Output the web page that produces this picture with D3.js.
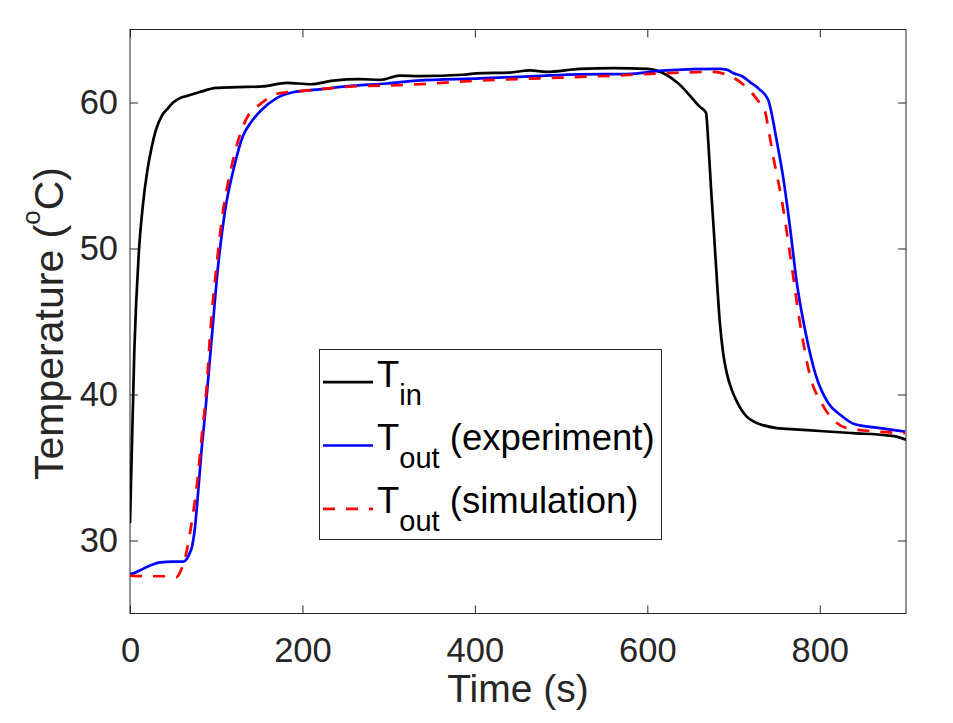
<!DOCTYPE html>
<html lang="en">
  <head>
    <meta charset="utf-8">
    <title>Temperature response</title>
    <script src="https://cdn.jsdelivr.net/npm/d3@7"></script>
    <style>
      body { margin: 0; background: #fff; }
      svg { display: block; }
    </style>
  </head>

  <body>
    <div id='chart'></div>

    <script type='text/javascript'>
      // inlet temperature (black)
      const tInTime = [0, 5, 10, 15, 20, 25, 30, 37, 44, 50, 58, 66, 80, 100, 125, 154, 182, 209, 236, 267,
                       290, 313, 336, 386, 402, 440, 464, 483, 522, 561, 600, 610, 622, 636, 661, 668, 671, 674, 677, 680,
                       684, 688, 692, 698, 704, 715, 725, 734, 750, 775, 800, 839, 878, 890, 900]
      const tInTemp = [31.2, 43.0, 49.5, 53.0, 55.3, 56.9, 58.1, 59.1, 59.6, 60.0, 60.3, 60.45, 60.7, 61.0, 61.05, 61.1, 61.35, 61.25, 61.5, 61.6,
                       61.55, 61.84, 61.8, 61.9, 62.0, 62.05, 62.2, 62.1, 62.3, 62.35, 62.3, 62.2, 61.9, 61.3, 59.7, 59.3, 57.0, 54.0, 51.3, 48.5,
                       45.0, 42.8, 41.5, 40.3, 39.5, 38.5, 38.1, 37.9, 37.7, 37.6, 37.5, 37.35, 37.2, 37.1, 36.9]

      // outlet temperature, experiment (blue)
      const expTime = [0, 6, 13, 22, 35, 50, 62, 66, 69, 72, 75, 79, 83, 87, 91, 95, 102, 110, 120, 131,
                       141, 151, 170, 189, 220, 259, 298, 333, 406, 470, 522, 576, 622, 684, 692, 700, 710, 719, 730, 740,
                       750, 758, 766, 773, 783, 795, 810, 824, 839, 870, 899]
      const expTemp = [27.7, 27.8, 28.0, 28.25, 28.5, 28.55, 28.55, 28.75, 29.1, 29.6, 30.7, 33.3, 36.2, 38.6, 41.3, 44.0, 48.7, 52.5, 55.4, 57.7,
                       58.7, 59.4, 60.3, 60.7, 60.9, 61.15, 61.3, 61.5, 61.65, 61.8, 61.93, 61.95, 62.2, 62.3, 62.25, 62.0, 61.8, 61.4, 60.9, 60.2,
                       57.4, 54.7, 51.2, 47.8, 44.4, 41.4, 39.4, 38.6, 38.0, 37.7, 37.45]

      // outlet temperature, simulation (red dashed)
      const simTime = [0, 20, 40, 54, 57, 60, 63, 66, 69, 72, 77, 83, 89, 93, 100, 108, 116, 126, 136, 147,
                       158, 170, 201, 259, 317, 406, 522, 565, 620, 677, 690, 700, 712, 722, 730, 736, 741, 746, 756, 766,
                       777, 788, 804, 816, 831, 858, 899]
      const simTemp = [27.6, 27.55, 27.55, 27.5, 27.7, 28.1, 28.6, 29.35, 30.3, 31.4, 33.5, 37.0, 40.6, 44.2, 48.6, 52.6, 55.15, 57.5, 59.0, 59.7,
                       60.2, 60.6, 60.8, 61.1, 61.2, 61.5, 61.75, 61.85, 62.0, 62.1, 61.95, 61.7, 61.2, 60.6, 60.0, 59.5, 58.0, 56.3, 53.3, 49.4,
                       44.9, 41.45, 39.2, 38.25, 37.7, 37.5, 37.35]

      const xTicks = [0, 200, 400, 600, 800]
      const yTicks = [30, 40, 50, 60]
      const legendNames = ['in', 'out', 'out']
      const legendNotes = ['', ' (experiment)', ' (simulation)']

      let fullW = 953, fullH = 723
      let margin = {top: 29.5, right: 47, bottom: 109.5, left: 130}
      let width = fullW - margin.left - margin.right
      let height = fullH - margin.top - margin.bottom
      let font = "'Liberation Sans', Arial, Helvetica, sans-serif"
      let axisColor = '#262626'

      let svg = d3.select('#chart').append('svg')
        .attr('width', fullW)
        .attr('height', fullH)

      let canvas = svg.append('g')
        .attr('transform', 'translate(' + margin.left + ',' + margin.top + ')')

      let scale_x = d3.scaleLinear().domain([0, 900]).range([0, width])
      let scale_y = d3.scaleLinear().domain([25, 65]).range([height, 0])

      canvas.append('clipPath').attr('id', 'plot-clip')
        .append('rect').attr('width', width).attr('height', height)

      // axes with inward ticks, mirrored on top/right
      let tick = 8
      let styleAxis = (g) => {
        g.attr('font-family', font).attr('font-size', 34.5)
        g.select('.domain').remove()
        g.selectAll('.tick line').attr('stroke', axisColor)
        g.selectAll('.tick text').attr('fill', axisColor)
      }

      canvas.append('g')
        .attr('transform', 'translate(0,' + height + ')')
        .call(d3.axisBottom(scale_x).tickValues(xTicks).tickSizeInner(-tick).tickSizeOuter(0).tickPadding(24))
        .call(styleAxis)
      canvas.append('g')
        .call(d3.axisTop(scale_x).tickValues(xTicks).tickSizeInner(-tick).tickSizeOuter(0).tickFormat(''))
        .call(styleAxis)
      canvas.append('g')
        .call(d3.axisLeft(scale_y).tickValues(yTicks).tickSizeInner(-tick).tickSizeOuter(0).tickPadding(12))
        .call(styleAxis)
      canvas.append('g')
        .attr('transform', 'translate(' + width + ',0)')
        .call(d3.axisRight(scale_y).tickValues(yTicks).tickSizeInner(-tick).tickSizeOuter(0).tickFormat(''))
        .call(styleAxis)

      canvas.append('rect')
        .attr('width', width)
        .attr('height', height)
        .attr('fill', 'none')
        .attr('stroke', axisColor)
        .attr('stroke-width', 1)

      // curves
      let series = [
        {time: tInTime, temp: tInTemp, color: '#000000', dash: null},
        {time: expTime, temp: expTemp, color: '#0000ff', dash: null},
        {time: simTime, temp: simTemp, color: '#ff0000', dash: '12,11'}
      ]

      let line = d3.line()
        .x((d) => scale_x(d[0]))
        .y((d) => scale_y(d[1]))
        .curve(d3.curveMonotoneX)

      canvas.append('g')
        .attr('clip-path', 'url(#plot-clip)')
        .selectAll('path')
        .data(series)
        .enter()
        .append('path')
        .attr('d', (s) => line(d3.zip(s.time, s.temp)))
        .attr('fill', 'none')
        .attr('stroke', (s) => s.color)
        .attr('stroke-width', 2.7)
        .attr('stroke-dasharray', (s) => s.dash)
        .attr('stroke-linejoin', 'round')

      // axis labels
      svg.append('text')
        .attr('x', margin.left + width / 2)
        .attr('y', 702)
        .attr('text-anchor', 'middle')
        .attr('font-family', font)
        .attr('font-size', 39)
        .attr('fill', axisColor)
        .text('Time (s)')

      let ylab = svg.append('text')
        .attr('transform', 'translate(63,' + (margin.top + height / 2 + 2) + ') rotate(-90)')
        .attr('text-anchor', 'middle')
        .attr('font-family', font)
        .attr('font-size', 41)
        .attr('fill', axisColor)
      ylab.append('tspan').text('Temperature (')
      ylab.append('tspan').attr('font-size', 26).attr('dy', -23).text('o')
      ylab.append('tspan').attr('dy', 23).text('C)')

      // legend
      let legend = svg.append('g')
      legend.append('rect')
        .attr('x', 319.5).attr('y', 349.5)
        .attr('width', 342).attr('height', 190)
        .attr('fill', '#ffffff')
        .attr('stroke', axisColor)
        .attr('stroke-width', 1)

      let rowY = (i) => 386.7 + i * 63.3

      legend.selectAll('line')
        .data(series)
        .enter()
        .append('line')
        .attr('x1', 323).attr('x2', 373)
        .attr('y1', (d, i) => rowY(i) - 4.5)
        .attr('y2', (d, i) => rowY(i) - 4.5)
        .attr('stroke', (s) => s.color)
        .attr('stroke-width', 2.7)
        .attr('stroke-dasharray', (s) => s.dash)

      legendNames.forEach((name, i) => {
        let t = legend.append('text')
          .attr('x', 377)
          .attr('y', rowY(i))
          .attr('font-family', font)
          .attr('font-size', 36.5)
          .attr('fill', '#000000')
        t.append('tspan').text('T')
        t.append('tspan').attr('font-size', 29).attr('dy', 18).text(name)
        if (legendNotes[i]) {
          t.append('tspan').attr('dy', -18).text(legendNotes[i])
        }
      })
    </script>
  </body>
</html>
